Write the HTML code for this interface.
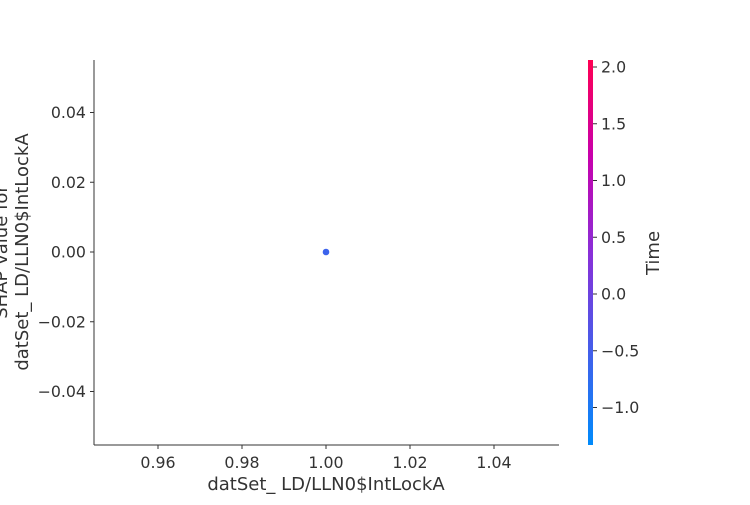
<!DOCTYPE html>
<html><head><meta charset="utf-8"><style>
body{margin:0;background:#fff;}
svg text{font-family:"DejaVu Sans","Liberation Sans",sans-serif;fill:#333;}
</style></head><body>
<svg id="chart" width="750" height="500">
<defs><linearGradient id="cb" x1="0" y1="1" x2="0" y2="0">
<stop offset="0" stop-color="#008bfb"/><stop offset="0.5" stop-color="#8a2fd8"/><stop offset="0.75" stop-color="#c800ac"/><stop offset="1" stop-color="#ff0052"/></linearGradient></defs>
<g id="axes"></g>
</svg>
<script>
const xTicks=[0.96,0.98,1.00,1.02,1.04];
const yTicks=[0.04,0.02,0.00,-0.02,-0.04];
const cTicks=[2.0,1.5,1.0,0.5,0.0,-0.5,-1.0];
const ptX=[1.00];
const ptY=[0.00];
const ptC=[-0.6];
const NS='http://www.w3.org/2000/svg';
const g=document.getElementById('axes');
const X=v=>326+(v-1)*4200;
const Y=v=>252-v*3487.5;
const C=v=>294-v*113.5;
function el(t,a,txt){const e=document.createElementNS(NS,t);for(const k in a)e.setAttribute(k,a[k]);if(txt!==undefined)e.textContent=txt;g.appendChild(e);return e;}
function col(v){const t=Math.max(0,Math.min(1,(v+1.33)/3.38));const a=[0,139,251],b=[138,47,216],c=[255,0,82];let r;if(t<0.5){const s=t/0.5;r=a.map((x,i)=>x+(b[i]-x)*s);}else{const s=(t-0.5)/0.5;r=b.map((x,i)=>x+(c[i]-x)*s);}return `rgb(${r.map(Math.round).join(',')})`;}
let e;
e=el('line',{x1:94,y1:60,x2:94,y2:445,stroke:'#333','stroke-width':1});

e=el('line',{x1:94,y1:445,x2:559,y2:445,stroke:'#333','stroke-width':1});

xTicks.forEach(v=>{
 e=el('line',{x1:X(v),y1:445,x2:X(v),y2:449,stroke:'#333'});
 
 e=el('text',{x:X(v),y:468,'text-anchor':'middle','font-size':15.8},v.toFixed(2));
 
});
yTicks.forEach(v=>{
 e=el('line',{x1:90,y1:Y(v),x2:94,y2:Y(v),stroke:'#333'});
 
 e=el('text',{x:86,y:Y(v)+5.5,'text-anchor':'end','font-size':15.8},(v<0?'\u2212':'')+Math.abs(v).toFixed(2));
 
});
e=el('text',{x:326,y:490,'text-anchor':'middle','font-size':18},'datSet_ LD/LLN0$IntLockA');

e=el('text',{x:0,y:0,'text-anchor':'middle','font-size':18,transform:'translate(7,252) rotate(-90)'},'SHAP value for');

e=el('text',{x:0,y:0,'text-anchor':'middle','font-size':18,transform:'translate(28,252) rotate(-90)'},'datSet_ LD/LLN0$IntLockA');

ptX.forEach((v,i)=>{
 e=el('circle',{cx:X(v),cy:Y(ptY[i]),r:3.3,fill:col(ptC[i])});
 
});
e=el('rect',{x:588,y:60,width:5,height:385,fill:'url(#cb)'});

cTicks.forEach(v=>{
 e=el('line',{x1:593,y1:C(v),x2:597,y2:C(v),stroke:'#333'});
 
 e=el('text',{x:601,y:C(v)+5.5,'font-size':15.8},(v<0?'\u2212':'')+Math.abs(v).toFixed(1));
 
});
e=el('text',{x:0,y:0,'text-anchor':'middle','font-size':18,transform:'translate(659,253) rotate(-90)'},'Time');

</script>
</body></html>
